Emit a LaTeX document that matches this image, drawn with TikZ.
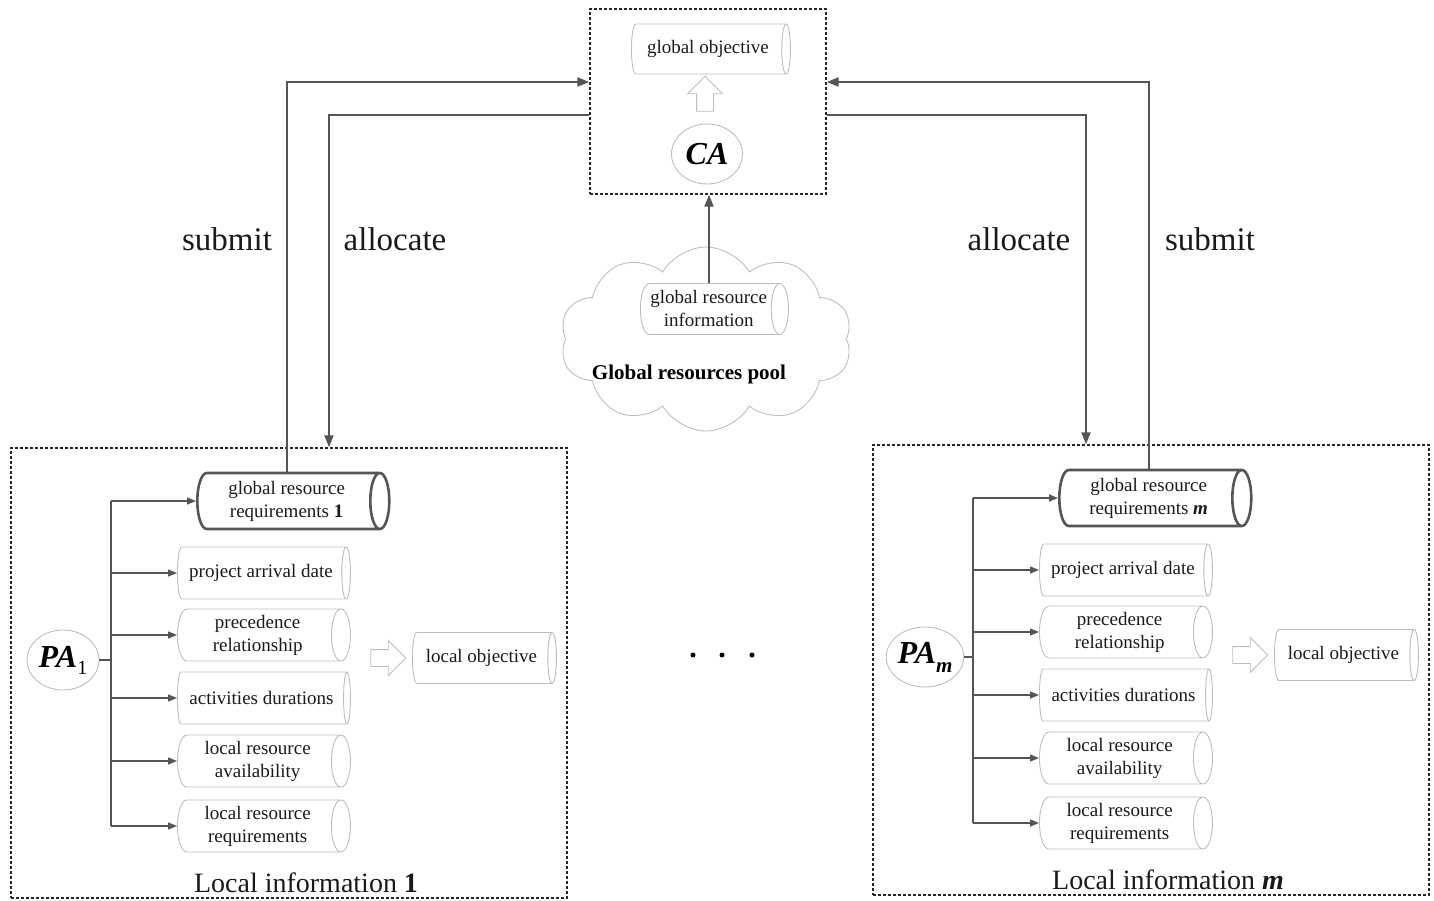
\documentclass[tikz,border=0pt]{standalone}
\usepackage{fontspec}
\setmainfont{Liberation Serif}
\usetikzlibrary{shapes.geometric,shapes.arrows,shapes.symbols,arrows.meta,calc}
\definecolor{lg}{HTML}{BDBDBD}
\definecolor{dg}{HTML}{555555}
\definecolor{tx}{HTML}{1A1A1A}
\tikzset{
  cylsize/.style 2 args={minimum height=#1, minimum width=#2},
  cyl/.style={cylinder, shape border rotate=0, draw=lg, line width=0.9pt, shape aspect=0.45,
    align=center, text=tx, font=\fontsize{19}{23}\selectfont, inner sep=1pt,
    cylsize={173pt}{52pt}, anchor=west},
  cylthick/.style={cyl, draw=dg, line width=2.6pt, cylsize={192pt}{56pt}},
  dbox/.style={draw=black!85, dash pattern=on 3pt off 2pt, line width=1.3pt, inner sep=0pt},
  pa/.style={ellipse, draw=lg, line width=0.9pt, minimum width=72pt, minimum height=60pt,
    inner sep=0pt, text=black, font=\fontsize{32}{36}\selectfont\bfseries\itshape},
  hollow/.style={single arrow, draw=lg, line width=0.9pt, fill=white, inner sep=8pt,
    single arrow head extend=9pt, single arrow head indent=0pt, minimum height=35pt},
  biglabel/.style={text=tx, font=\fontsize{28}{32}\selectfont, inner sep=0pt},
  toplabel/.style={text=tx, font=\fontsize{33}{38}\selectfont, inner sep=0pt},
  conn/.style={draw=dg, line width=2pt, -{Triangle[length=12pt,width=9pt]}},
  line/.style={draw=dg, line width=1.6pt},
  brarr/.style={draw=dg, line width=1.4pt, -{Triangle[length=9pt,width=7pt]}},
}
\newcommand\LocalInfo[5]{%
\begin{scope}[shift={#2}]
 \node[dbox, minimum width=556pt, minimum height=450pt] (#1box) at (289,673) {};
 \node[cylthick] (#1grr) at (196,501) {global resource\\requirements #4};
 \node[cyl] (#1pad) at (177,573) {project arrival date};
 \node[cyl] (#1pr) at (177,635) {precedence\\relationship};
 \node[cyl] (#1ad) at (177,698) {activities durations};
 \node[cyl] (#1lra) at (177,761) {local resource\\availability};
 \node[cyl] (#1lrr) at (177,826) {local resource\\requirements};
 \node[pa] (#1pa) at (63,660) {#3};
 \node[hollow] (#1harr) at (384,658) {};
 \node[cyl, cylsize={144pt}{51pt}] (#1lo) at (412,658) {local objective};
 \node[biglabel] (#1title) at (306,883) {Local information #5};
 \coordinate (#1xt) at (111,0);
 \draw[line] (#1pa.east) -- (#1xt |- #1pa.east);
 \draw[line] (#1xt |- #1grr.west) -- (#1xt |- #1lrr.west);
 \foreach \n in {grr,pad,pr,ad,lra,lrr} \draw[brarr] (#1xt |- #1\n.west) -- (#1\n.west);
\end{scope}}

\begin{document}
\begin{tikzpicture}[x=1pt,y=-1pt]
\useasboundingbox (0,0) rectangle (1434,901);
% central agent
\node[dbox, minimum width=236pt, minimum height=185pt] (cabox) at (708,101.5) {};
\node[cyl, cylsize={159pt}{50pt}] (gobj) at (631,49) {global objective};
\node[hollow, shape border rotate=90] (uparr) at (705,98) {};
\node[pa, minimum width=71pt, minimum height=60pt] (ca) at (707,154) {CA};
% cloud
\node[cloud, cloud puffs=10, cloud puff arc=120, aspect=1.6, draw=lg, line width=0.9pt,
  minimum width=292pt, minimum height=184pt, inner sep=0pt] (pool) at (706,339) {};
\node[cyl, cylsize={148pt}{51pt}] (gri) at (640,309) {global resource\\information};
\node[text=black, font=\fontsize{21}{24}\selectfont\bfseries, inner sep=0pt] (poollabel) at (689,374) {Global resources pool};
\coordinate (xgri) at (709,0);
\draw[conn] (xgri |- gri.north) -- (xgri |- cabox.south);
% local blocks
\LocalInfo{L}{(0,0)}{PA\raisebox{-0.22em}{\fontsize{20}{20}\selectfont\mdseries\upshape 1}}{\textbf{1}}{\textbf{1}}
\LocalInfo{R}{(862,-3)}{PA\raisebox{-0.28em}{\fontsize{21}{21}\selectfont m}}{\textbf{\textit{m}}}{\textbf{\textit{m}}}
% dots
\foreach \xx/\nm in {693/d1,722/d2,752/d3} \node[circle, fill=black, inner sep=0pt, minimum size=5pt] (\nm) at (\xx,655) {};
% submit / allocate connectors
\coordinate (ytop) at (0,82);
\coordinate (ybot) at (0,115);
\coordinate (xal) at (329,0);
\coordinate (xar) at (1086,0);
\draw[conn] (Lgrr.north) |- (cabox.west |- ytop);
\draw[conn] (cabox.west |- ybot) -| (xal |- Lbox.north);
\draw[conn] (Rgrr.north) |- (cabox.east |- ytop);
\draw[conn] (cabox.east |- ybot) -| (xar |- Rbox.north);
% labels
\node[toplabel] (sl) at (227,239) {submit};
\node[toplabel] (al) at (395,239) {allocate};
\node[toplabel] (ar) at (1019,239) {allocate};
\node[toplabel] (sr) at (1210,239) {submit};
\end{tikzpicture}
\end{document}
